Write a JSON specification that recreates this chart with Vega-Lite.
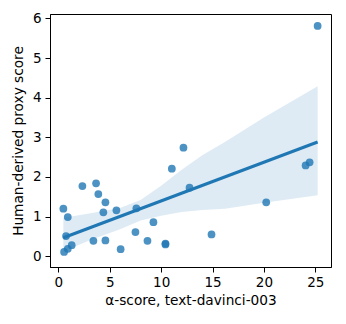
{
  "$schema": "https://vega.github.io/schema/vega-lite/v6.json",
  "autosize": {"type": "none"},
  "width": 281,
  "height": 253,
  "padding": {"left": 50, "top": 14, "right": 15, "bottom": 57},
  "config": {
    "font": "DejaVu Sans",
    "view": {"stroke": "black", "strokeWidth": 1},
    "axis": {
      "domainColor": "black",
      "tickColor": "black",
      "tickSize": 5,
      "labelFontSize": 13.5,
      "labelColor": "black",
      "titleFontSize": 13.7,
      "titleFontWeight": "normal",
      "titleColor": "black",
      "grid": false,
      "labelFont": "DejaVu Sans",
      "titleFont": "DejaVu Sans"
    }
  },
  "datasets": {
    "pts": [
      {"x": 0.49, "y": 1.20}, {"x": 0.92, "y": 0.99}, {"x": 0.75, "y": 0.51},
      {"x": 0.56, "y": 0.11}, {"x": 0.92, "y": 0.19}, {"x": 1.30, "y": 0.28},
      {"x": 2.34, "y": 1.77}, {"x": 3.67, "y": 1.84}, {"x": 3.89, "y": 1.57},
      {"x": 4.58, "y": 1.36}, {"x": 4.38, "y": 1.11}, {"x": 3.41, "y": 0.39},
      {"x": 4.58, "y": 0.40}, {"x": 5.65, "y": 1.16}, {"x": 6.06, "y": 0.18},
      {"x": 7.59, "y": 1.21}, {"x": 7.50, "y": 0.61}, {"x": 8.67, "y": 0.39},
      {"x": 9.25, "y": 0.86}, {"x": 10.42, "y": 0.32}, {"x": 10.42, "y": 0.30},
      {"x": 11.04, "y": 2.21}, {"x": 12.17, "y": 2.74}, {"x": 12.76, "y": 1.73},
      {"x": 14.90, "y": 0.55}, {"x": 20.22, "y": 1.36}, {"x": 24.05, "y": 2.29},
      {"x": 24.44, "y": 2.37}, {"x": 25.22, "y": 5.81}
    ],
    "band": [
      {"x": 0.49, "lo": 0.12, "hi": 0.97},
      {"x": 3, "lo": 0.40, "hi": 1.08},
      {"x": 6, "lo": 0.68, "hi": 1.22},
      {"x": 8, "lo": 0.90, "hi": 1.42},
      {"x": 10, "lo": 1.02, "hi": 1.78},
      {"x": 12, "lo": 1.12, "hi": 2.18},
      {"x": 14, "lo": 1.17, "hi": 2.55},
      {"x": 16.2, "lo": 1.20, "hi": 2.88},
      {"x": 20, "lo": 1.35, "hi": 3.50},
      {"x": 25.22, "lo": 1.54, "hi": 4.29}
    ]
  },
  "layer": [
    {
      "data": {"name": "band"},
      "mark": {"type": "area", "color": "#1f77b4", "opacity": 0.15},
      "encoding": {
        "x": {"field": "x", "type": "quantitative",
              "scale": {"domain": [-0.81, 26.52], "nice": false, "zero": false},
              "axis": {"values": [0, 5, 10, 15, 20, 25], "title": "α-score, text-davinci-003", "labelPadding": 3, "titlePadding": 5}},
        "y": {"field": "lo", "type": "quantitative",
              "scale": {"domain": [-0.27, 6.11], "nice": false, "zero": false},
              "axis": {"values": [0, 1, 2, 3, 4, 5, 6], "title": "Human-derived proxy score", "labelPadding": 4, "titlePadding": 7}},
        "y2": {"field": "hi"}
      }
    },
    {
      "data": {"name": "pts"},
      "mark": {"type": "circle", "color": "#1f77b4", "opacity": 0.8, "size": 60},
      "encoding": {
        "x": {"field": "x", "type": "quantitative"},
        "y": {"field": "y", "type": "quantitative"}
      }
    },
    {
      "data": {"name": "pts"},
      "transform": [{"regression": "y", "on": "x"}],
      "mark": {"type": "line", "color": "#1f77b4", "strokeWidth": 3},
      "encoding": {
        "x": {"field": "x", "type": "quantitative"},
        "y": {"field": "y", "type": "quantitative"}
      }
    }
  ]
}
